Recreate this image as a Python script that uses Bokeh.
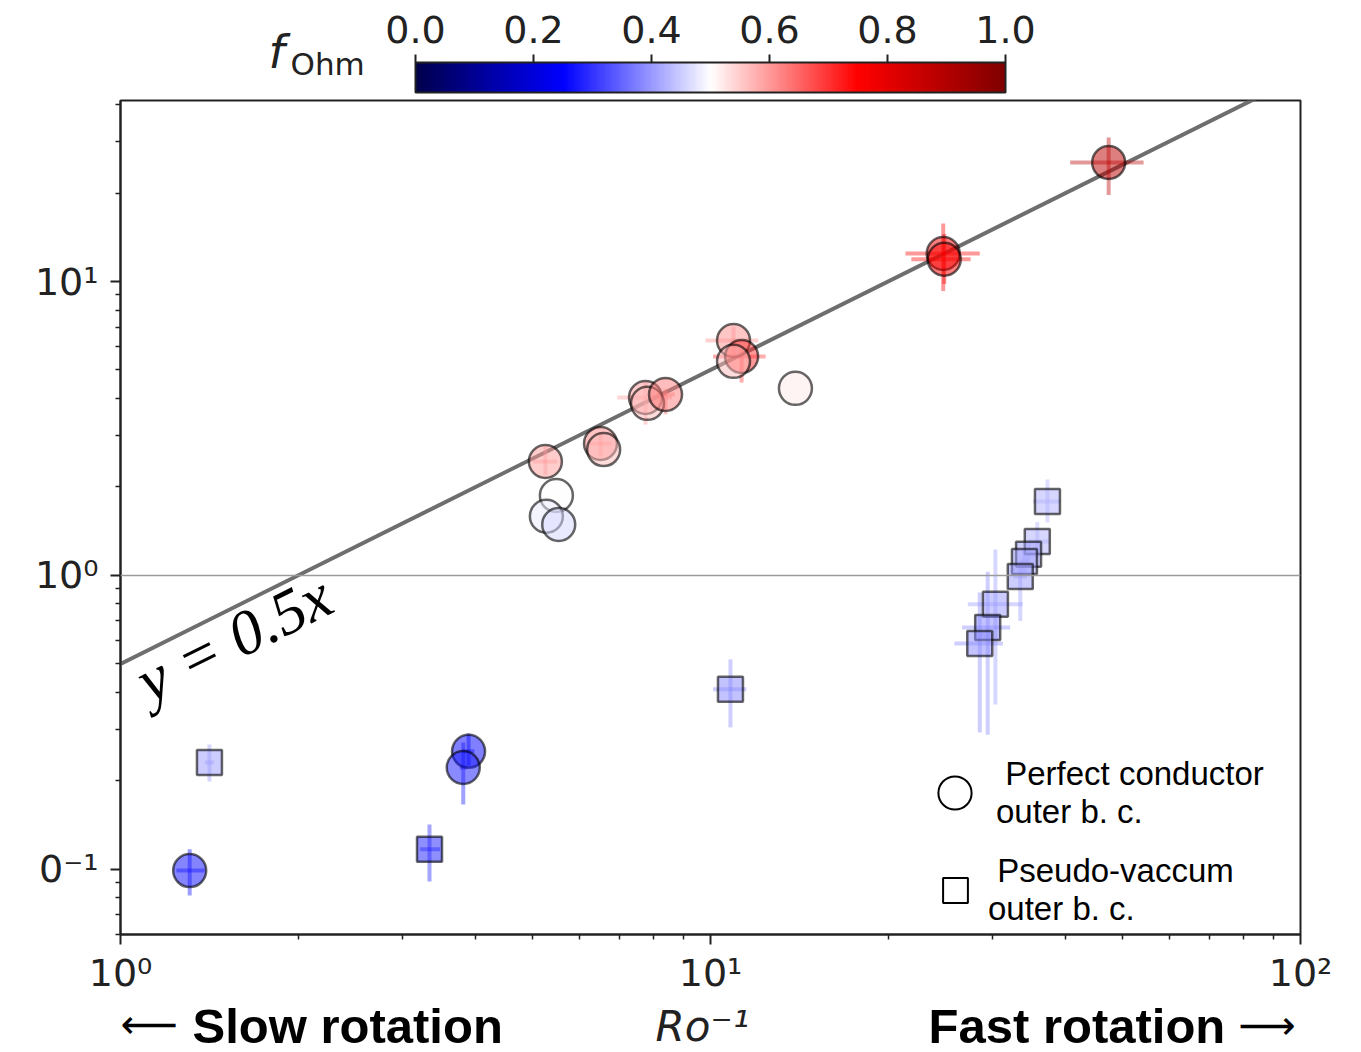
import numpy as np
from bokeh.plotting import figure
from bokeh.layouts import column
from bokeh.models import (Range1d, FixedTicker, Span, Label, Legend, LegendItem,
                          LinearColorMapper, ColumnDataSource)
from bokeh.embed import file_html
from bokeh.resources import INLINE
from bokeh.core.properties import value

# ---------------- data ----------------
# Perfect conductor outer b.c. (circles)
circ_x = [1.31, 3.89, 3.81, 5.25, 5.48, 5.27, 5.53, 6.51, 6.59, 7.76, 7.82, 8.39,
          10.94, 11.29, 10.94, 13.93, 24.8, 24.9, 47.3]
circ_y = [0.099, 0.252, 0.222, 2.44, 1.87, 1.59, 1.49, 2.81, 2.68, 4.03, 3.85, 4.13,
          6.30, 5.56, 5.35, 4.33, 12.45, 11.9, 25.4]
circ_f = [0.26, 0.25, 0.27, 0.60, 0.50, 0.48, 0.46, 0.62, 0.57, 0.60, 0.57, 0.63,
          0.61, 0.70, 0.57, 0.52, 0.76, 0.76, 0.88]
circ_xlo = [1.244, 3.80, 3.76, 5.00, 5.48, 5.27, 5.53, 6.20, 6.59, 6.95, 7.82, 8.10,
            9.80, 10.1, 10.94, 13.93, 21.4, 21.9, 40.7]
circ_xhi = [1.388, 3.98, 3.87, 5.50, 5.48, 5.27, 5.53, 6.80, 6.59, 8.60, 7.82, 8.70,
            12.05, 12.4, 10.94, 13.93, 28.6, 27.6, 54.2]
circ_ylo = [0.0815, 0.225, 0.166, 2.20, 1.87, 1.59, 1.49, 2.55, 2.68, 3.26, 3.85, 3.53,
            5.60, 4.53, 5.35, 4.33, 9.28, 9.80, 19.7]
circ_yhi = [0.117, 0.29, 0.27, 2.75, 1.87, 1.59, 1.49, 3.05, 2.68, 4.53, 3.85, 4.30,
            7.00, 6.00, 5.35, 4.33, 15.75, 14.5, 30.9]

# Pseudo-vacuum outer b.c. (squares)
sq_x = [1.415, 3.34, 10.81, 37.25, 35.8, 34.6, 34.05, 33.5, 30.4, 29.5, 28.6]
sq_y = [0.231, 0.117, 0.41, 1.785, 1.305, 1.18, 1.116, 0.992, 0.797, 0.665, 0.587]
sq_f = [0.40, 0.28, 0.38, 0.42, 0.42, 0.41, 0.41, 0.40, 0.40, 0.38, 0.38]
sq_xlo = [1.39, 3.22, 10.1, 35.2, 34.5, 34.0, 33.5, 32.6, 27.3, 26.7, 25.9]
sq_xhi = [1.44, 3.48, 11.5, 39.2, 37.5, 35.3, 34.6, 34.4, 33.8, 32.2, 31.3]
sq_ylo = [0.199, 0.0908, 0.304, 1.515, 1.15, 1.07, 1.02, 0.70, 0.364, 0.287, 0.292]
sq_yhi = [0.266, 0.142, 0.518, 2.12, 1.52, 1.30, 1.22, 1.12, 1.226, 1.03, 0.875]

fit_x = [1.0, 100.0]
fit_y = [0.5 * v for v in fit_x]

x_major = [1, 10, 100]
x_minor = [2, 3, 4, 5, 6, 7, 8, 9, 20, 30, 40, 50, 60, 70, 80, 90]
x_labels = {1: "10⁰", 10: "10¹", 100: "10²"}
y_major = [0.1, 1, 10]
y_minor = [0.06, 0.07, 0.08, 0.09, 0.2, 0.3, 0.4, 0.5, 0.6, 0.7, 0.8, 0.9,
           2, 3, 4, 5, 6, 7, 8, 9, 20, 30, 40]
y_labels = {0.1: "0⁻¹", 1: "10⁰", 10: "10¹"}

cbar_ticks = [0.0, 0.2, 0.4, 0.6, 0.8, 1.0]
cbar_labels = ["%.1f" % t for t in cbar_ticks]

# seismic colormap
nodes = np.array([[0, 0, 0.3], [0, 0, 1], [1, 1, 1], [1, 0, 0], [0.5, 0, 0]])
npos = np.linspace(0, 1, 5)
tt = np.linspace(0, 1, 256)
rgb = np.stack([np.interp(tt, npos, nodes[:, k]) for k in range(3)], axis=1)
palette = ["#%02x%02x%02x" % tuple(int(round(c * 255)) for c in row) for row in rgb]
mapper = LinearColorMapper(palette=palette, low=0, high=1)
fmap = {'field': 'f', 'transform': mapper}

W = 1340
FL, FR = 120, 40  # frame borders (px)

# ---------------- colour bar figure ----------------
cb = figure(width=W, height=96, x_range=Range1d(-0.5, 1.5),
            y_range=Range1d(-4 / 30, 92 / 30), output_backend="svg",
            toolbar_location=None, x_axis_location=None, y_axis_location=None,
            min_border_left=FL, min_border_right=FR, min_border_top=0,
            min_border_bottom=0)
cb.grid.visible = False
cb.outline_line_color = None
cb.image(image=[np.linspace(0, 1, 256)[None, :]], x=0, y=0, dw=1, dh=1,
         color_mapper=mapper)
cb.quad(left=[0], right=[1], bottom=[0], top=[1], fill_color=None,
        line_color="#222222", line_width=2)
cb.segment(x0=cbar_ticks, x1=cbar_ticks, y0=[1] * 6, y1=[1 + 8 / 30] * 6,
           line_color="#222222", line_width=2)
cb.text(x=cbar_ticks, y=[(92 - 29) / 30] * 6, text=cbar_labels, text_align="center",
        text_baseline="middle", text_font=value("DejaVu Sans"),
        text_font_size="38px", text_color="#222222")
cb.text(x=[(268 - 415) / 590], y=[(92 - 51) / 30], text=["f"],
        text_font=value("DejaVu Sans"), text_font_style="italic",
        text_font_size="46px", text_color="#222222", text_baseline="middle")
cb.text(x=[(290 - 415) / 590], y=[(92 - 63) / 30], text=["Ohm"],
        text_font=value("DejaVu Sans"), text_font_size="31px",
        text_color="#222222", text_baseline="middle")

# ---------------- main figure ----------------
p = figure(width=W, height=901, x_axis_type="log", y_axis_type="log",
           x_range=Range1d(1, 100), y_range=Range1d(0.06, 41.3),
           output_backend="svg", toolbar_location=None,
           min_border_left=FL, min_border_right=FR, min_border_top=4,
           min_border_bottom=62)
p.grid.visible = False
p.outline_line_color = "#222222"
p.outline_line_width = 2

p.xaxis.ticker = FixedTicker(ticks=x_major, minor_ticks=x_minor)
p.yaxis.ticker = FixedTicker(ticks=y_major, minor_ticks=y_minor)
p.xaxis.major_label_overrides = x_labels
p.yaxis.major_label_overrides = y_labels
for ax in (p.xaxis[0], p.yaxis[0]):
    ax.major_label_text_font = "DejaVu Sans"
    ax.major_label_text_font_size = "38px"
    ax.major_label_text_color = "#222222"
    ax.axis_line_color = "#222222"
    ax.axis_line_width = 2
    ax.major_tick_line_color = "#222222"
    ax.minor_tick_line_color = "#222222"
    ax.major_tick_line_width = 2
    ax.minor_tick_line_width = 1.5
    ax.major_tick_out = 10
    ax.major_tick_in = 0
    ax.minor_tick_out = 5
    ax.minor_tick_in = 0
p.xaxis.major_label_standoff = 6
p.yaxis.major_label_standoff = 12

p.add_layout(Span(location=1, dimension="width", line_color="#9a9a9a", line_width=1.5))
p.line(fit_x, fit_y, line_color="#6e6e6e", line_width=4)

csrc = ColumnDataSource(dict(x=circ_x, y=circ_y, f=circ_f, xlo=circ_xlo, xhi=circ_xhi,
                             ylo=circ_ylo, yhi=circ_yhi))
ssrc = ColumnDataSource(dict(x=sq_x, y=sq_y, f=sq_f, xlo=sq_xlo, xhi=sq_xhi,
                             ylo=sq_ylo, yhi=sq_yhi))
for src in (csrc, ssrc):
    p.segment(x0='x', x1='x', y0='ylo', y1='yhi', source=src, line_color=fmap,
              line_alpha=0.4, line_width=4)
    p.segment(x0='xlo', x1='xhi', y0='y', y1='y', source=src, line_color=fmap,
              line_alpha=0.4, line_width=4)

p.scatter('x', 'y', source=csrc, marker='circle', size=33, fill_color=fmap,
          fill_alpha=0.5, line_color='black', line_alpha=0.6, line_width=2.5)
p.scatter('x', 'y', source=ssrc, marker='square', size=25, fill_color=fmap,
          fill_alpha=0.5, line_color='black', line_alpha=0.6, line_width=2.5)

# legend (proxy renderers with a single non-drawn point)
lc = p.scatter([np.nan], [np.nan], marker='circle', fill_color=None,
               line_color='black', line_width=2)
ls = p.scatter([np.nan], [np.nan], marker='square', fill_color=None,
               line_color='black', line_width=2)
for rend, lab, gsize, loc, stand in (
        (lc, " Perfect conductor\nouter b. c.", 83, (793, 100), 0),
        (ls, " Pseudo-vaccum\nouter b. c.", 62, (804, 6), 2)):
    leg = Legend(items=[LegendItem(label=lab, renderers=[rend])], location=loc,
                 glyph_width=gsize, glyph_height=gsize, label_standoff=stand,
                 padding=0, margin=0, spacing=0, border_line_alpha=0,
                 background_fill_alpha=0, label_text_font="Liberation Sans",
                 label_text_font_size="33px", label_text_color="black")
    p.add_layout(leg)

p.add_layout(Label(x=1.150, y=0.3314, text="y = 0.5x", angle=0.4623,
                   text_font="Liberation Serif", text_font_style="italic",
                   text_font_size="63px", text_color="black"))

# ---------------- bottom caption strip ----------------
bt = figure(width=W, height=55, x_axis_type="log", x_range=p.x_range,
            y_range=Range1d(0, 55), output_backend="svg", toolbar_location=None,
            x_axis_location=None, y_axis_location=None,
            min_border_left=FL, min_border_right=FR, min_border_top=0,
            min_border_bottom=0)
bt.grid.visible = False
bt.outline_line_color = None
bt.text(x=[1.0], y=[29], text=["⟵"], text_font=value("DejaVu Sans"),
        text_font_size="40px", text_color="black", text_baseline="middle")
bt.text(x=[1.3245, 23.42], y=[27, 27], text=["Slow rotation", "Fast rotation"],
        text_font=value("Liberation Sans"), text_font_style="bold",
        text_font_size="49px", text_color="black", text_baseline="middle")
bt.text(x=[8.07], y=[26], text=["Ro⁻¹"], text_font=value("DejaVu Sans"),
        text_font_style="italic", text_font_size="42px", text_color="#222222",
        text_baseline="middle")
bt.text(x=[78.5], y=[28], text=["⟶"], text_font=value("DejaVu Sans"),
        text_font_size="40px", text_color="black", text_baseline="middle")

layout = column(cb, p, bt, spacing=0)
open("out.html", "w").write(file_html(layout, INLINE))
